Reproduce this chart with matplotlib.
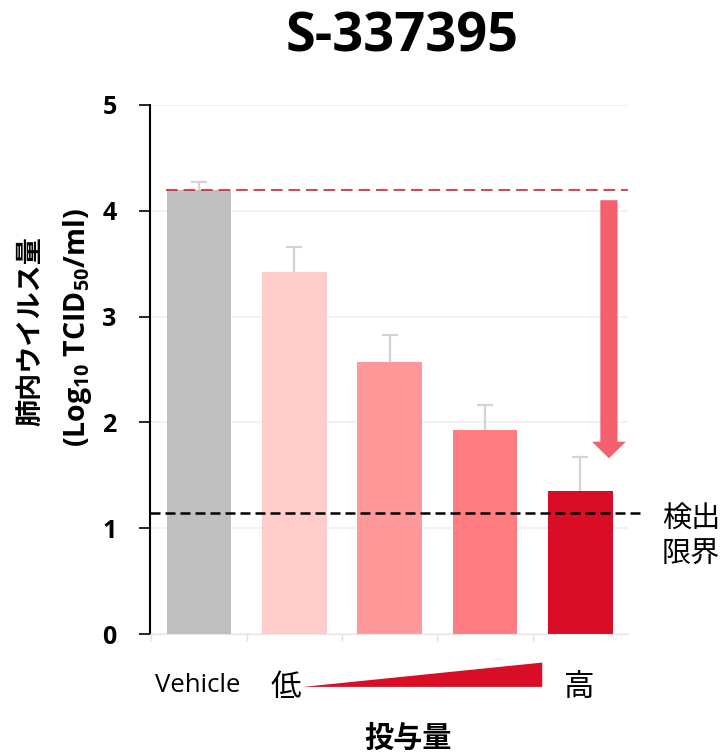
import matplotlib
matplotlib.use("Agg")
import matplotlib.pyplot as plt
from matplotlib.patches import Polygon

plt.rcParams['font.family'] = ['Open Sans', 'Noto Sans CJK JP', 'DejaVu Sans']
plt.rcParams['mathtext.fontset'] = 'custom'
plt.rcParams['mathtext.rm'] = 'Open Sans:bold'
plt.rcParams['mathtext.bf'] = 'Open Sans:bold'

# ---- data ----
categories = ["Vehicle", "低1", "低2", "低3", "高"]
values = [4.20, 3.42, 2.57, 1.93, 1.35]
errors = [0.07, 0.24, 0.26, 0.23, 0.32]
bar_colors = ["#BFBFBF", "#FFCCCC", "#FF9999", "#FF7C80", "#D90D26"]
detection_limit = 1.14
vehicle_level = 4.20
yticks = [0, 1, 2, 3, 4, 5]
title = "S-337395"
ylabel1 = "肺内ウイルス量"
ylabel2 = "(Log$_{10}$ TCID$_{50}$/ml)"
xlabel = "投与量"
dl_label = "検出\n限界"

fig = plt.figure(figsize=(7.28, 7.53), dpi=100)
ax = fig.add_axes([150/728, 1-634/753, (628-150)/728, (634-105)/753])

x = list(range(len(values)))
ax.bar(x, values, width=0.68, color=bar_colors, zorder=2)
eb = ax.errorbar(x, values, yerr=[[0]*len(errors), errors], fmt='none',
                 ecolor='#D3D3D3', elinewidth=1.6, capsize=6, capthick=1.6, zorder=3)
eb[1][0].set_visible(False)

ax.set_xlim(-0.515, 4.5)
ax.set_ylim(0, 5)
ax.set_yticks(yticks)
ax.set_yticklabels([str(t) for t in yticks], fontsize=18, fontweight='bold')
ax.tick_params(axis='y', length=8, width=1.2, color='black', pad=16)
ax.set_xticks([])
ax.set_xticks([-0.5, 0.5, 1.5, 2.5, 3.5], minor=True)
ax.tick_params(axis='x', which='minor', length=5, color='#E0E0E0', width=1)
ax.grid(axis='y', color='#F0F0F0', linewidth=1.2, zorder=0)
for s in ['top', 'right']:
    ax.spines[s].set_visible(False)
ax.spines['left'].set_linewidth(1.5)
ax.spines['bottom'].set_color('#E6E6E6')
ax.set_axisbelow(True)

# reference lines
ax.plot([-0.35, 4.5], [vehicle_level, vehicle_level], color='#D02535', lw=1.2,
        dashes=(7, 3.5), zorder=4)
ax.plot([-0.515, 4.64], [detection_limit, detection_limit], color='black', lw=1.8,
        dashes=(4, 2), zorder=4, clip_on=False)

# reduction arrow
ax.annotate('', xy=(4.30, 1.66), xytext=(4.30, 4.10),
            arrowprops=dict(arrowstyle='simple,head_width=1.22,head_length=0.6,tail_width=0.62',
                            mutation_scale=20, color='#F5606F', shrinkA=0, shrinkB=0, lw=0),
            zorder=5)

# dose wedge
wedge = Polygon([(1.09, -0.50), (3.60, -0.27), (3.60, -0.50)], closed=True,
                facecolor='#D90D26', edgecolor='none', clip_on=False)
ax.add_patch(wedge)

# texts
fig.text(402/728, 1-37/753, title, ha='center', va='center', fontsize=39, fontweight='bold')
fig.text(198/728, 1-686/753, "Vehicle", ha='center', va='center', fontsize=18.5)
fig.text(286/728, 1-687/753, "低", ha='center', va='center', fontsize=22,
         family=['Noto Sans CJK JP'])
fig.text(578/728, 1-687/753, "高", ha='center', va='center', fontsize=22,
         family=['Noto Sans CJK JP'])
fig.text(408/728, 1-738/753, xlabel, ha='center', va='center', fontsize=21,
         fontweight='bold', family=['Noto Sans CJK JP'])
fig.text(662/728, 1-537/753, dl_label, ha='left', va='center', fontsize=21,
         linespacing=1.25, family=['Noto Sans CJK JP'])
fig.text(30/728, 1-331/753, ylabel1, ha='center', va='center', fontsize=19.5,
         fontweight='bold', rotation=90, family=['Noto Sans CJK JP'])
fig.text(78/728, 1-328/753, ylabel2, ha='center', va='center', fontsize=20.5,
         fontweight='bold', rotation=90)

fig.savefig("out.png", dpi=100)
